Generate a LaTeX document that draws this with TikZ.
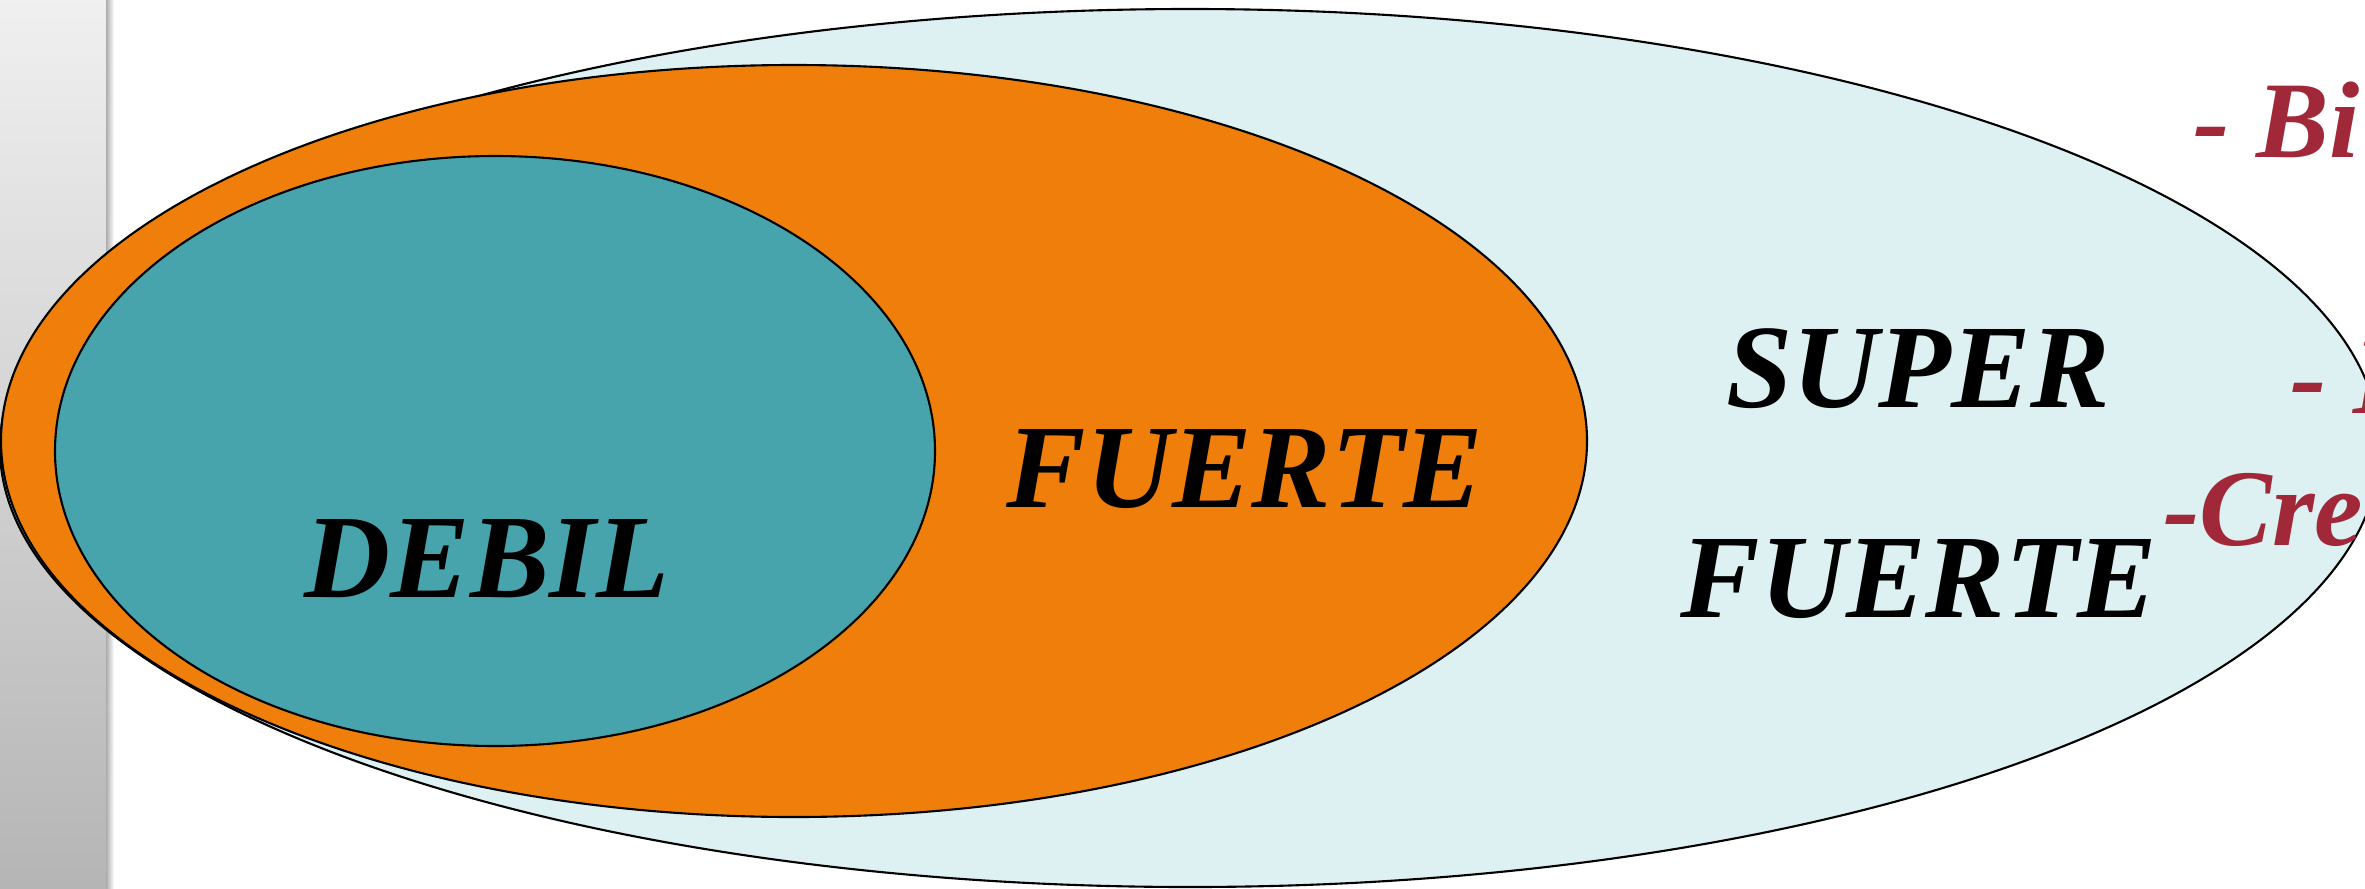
\documentclass[tikz,border=0pt]{standalone}
\usepackage{fontspec}
\setmainfont{Liberation Serif}[BoldItalicFont={Liberation Serif Bold Italic}]
\usetikzlibrary{shapes.geometric,positioning}

\definecolor{palecyan}{HTML}{DDF0F2}
\definecolor{fuerteorange}{HTML}{EF7F0A}
\definecolor{debilteal}{HTML}{48A4AC}
\definecolor{notered}{HTML}{A02838}

\begin{document}
\begin{tikzpicture}[
    every node/.style={font=\fontsize{33.9}{40}\selectfont\bfseries\itshape},
    zone/.style={ellipse, draw=black, line width=0.6pt, inner sep=0pt, outer sep=0pt},
    word/.style={anchor=base, text=black},
    note/.style={anchor=base west, text=notered, font=\fontsize{31}{37}\selectfont\bfseries\itshape},
]
\clip (0,0) rectangle (23.65,8.88);
% side bar
\shade[top color=gray!12, bottom color=gray!58] (0,0) rectangle (1.08,8.88);
\shade[left color=gray!65, right color=white] (1.06,0) rectangle (1.14,8.88);
% nested zones
\node[zone, fill=palecyan, minimum width=23.8cm, minimum height=8.78cm] (superzone) at (11.90,4.40) {};
\node[zone, fill=fuerteorange, minimum width=15.86cm, minimum height=7.52cm] (fuertezone) at (7.94,4.47) {};
\node[zone, fill=debilteal, minimum width=8.80cm, minimum height=5.90cm] (debilzone) at (4.95,4.37) {};
% labels
\node[word] (debil) at (4.87,2.91) {DEBIL};
\node[word] (fuerte) at (12.45,3.81) {FUERTE};
\node[word] (super) at (19.18,4.81) {SUPER};
\node[word] (superfuerte) at (19.19,2.71) {FUERTE};
% notes cut by the page edge
\node[note] (noteb) at (21.81,7.31) {- Bi};
\node[note] (notei) at (22.78,4.75) {- I};
\node[note] (notec) at (21.51,3.43) {-Cre};
\end{tikzpicture}
\end{document}
